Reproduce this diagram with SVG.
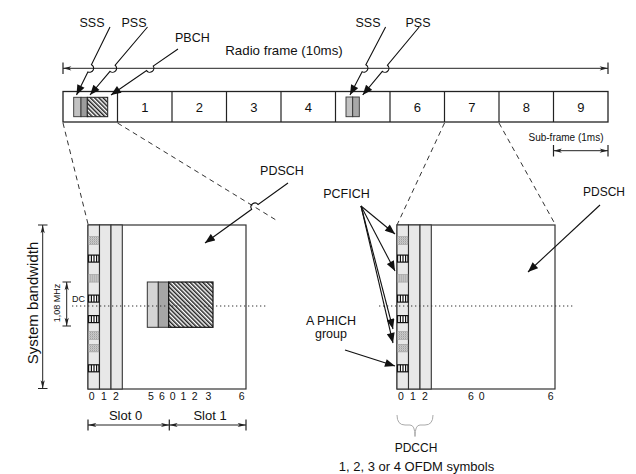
<svg xmlns="http://www.w3.org/2000/svg" width="636" height="474" viewBox="0 0 636 474">
<style>
text{font-family:"Liberation Sans",Arial,sans-serif;fill:#111}
.l{stroke:#222;stroke-width:1.2;fill:none}
.dash{stroke:#333;stroke-width:1;stroke-dasharray:5 4;fill:none}
.dot{stroke:#333;stroke-width:1.2;stroke-dasharray:1.3 2.7;fill:none}
.ar{stroke:#111;stroke-width:1.1;fill:none;marker-end:url(#ah)}
.dm{stroke:#222;stroke-width:1;fill:none;marker-start:url(#dh);marker-end:url(#dh)}
.tk{stroke:#222;stroke-width:1.2}
.col{fill:#e8e8e8;stroke:#333;stroke-width:1.1}
.lab{font-size:12.5px}
.num{font-size:10.5px}
</style>
<defs>
<marker id="ah" viewBox="0 0 10 8" refX="10" refY="4" markerWidth="11" markerHeight="8" orient="auto" markerUnits="userSpaceOnUse"><path d="M0,0L10,4L0,8z" fill="#111"/></marker>
<marker id="dh" viewBox="0 0 10 6" refX="10" refY="3" markerWidth="10" markerHeight="5" orient="auto-start-reverse" markerUnits="userSpaceOnUse"><path d="M0,0.5L10,3L0,5.5L2.5,3z" fill="#222"/></marker>
<pattern id="hatch" width="3" height="3" patternUnits="userSpaceOnUse" patternTransform="rotate(-45)"><rect width="3" height="3" fill="#fff"/><rect width="1.5" height="3" fill="#222"/></pattern>
<pattern id="stip" width="2" height="2" patternUnits="userSpaceOnUse"><rect width="2" height="2" fill="#ddd"/><rect width="1" height="1" fill="#888"/><rect x="1" y="1" width="1" height="1" fill="#aaa"/></pattern>
<g id="ph"><rect x="0.6" y="0.6" width="10.3" height="7" fill="#fff" stroke="#111" stroke-width="1.2"/><path d="M3.4,0.6V7.6M6,0.6V7.6M8.6,0.6V7.6" stroke="#111" stroke-width="1.2"/></g>
<rect id="pc" x="0.6" y="0" width="10.3" height="7.6" fill="url(#stip)" stroke="#999" stroke-width="0.6"/>
<g id="ctrl">
<rect class="col" x="88" y="225" width="11.5" height="164"/>
<rect class="col" x="99.5" y="225" width="11.5" height="164"/>
<rect class="col" x="111" y="225" width="11.3" height="164"/>
<use href="#pc" x="88" y="236.7"/>
<use href="#ph" x="88" y="254.5"/>
<use href="#pc" x="88" y="274.5"/>
<use href="#ph" x="88" y="294.5"/>
<use href="#ph" x="88" y="315"/>
<use href="#pc" x="88" y="331.7"/>
<use href="#pc" x="88" y="344.3"/>
<use href="#ph" x="88" y="364.2"/>
</g>
</defs>
<rect width="636" height="474" fill="#fff"/>

<g id="radio-frame">
<rect x="63" y="91.5" width="545" height="30.5" fill="#fff" stroke="#222" stroke-width="1.3"/>
<path class="l" d="M117.5,91.5V122M172,91.5V122M226.5,91.5V122M281,91.5V122M335.5,91.5V122M390,91.5V122M444.5,91.5V122M499,91.5V122M553.5,91.5V122"/>
<g font-size="13" text-anchor="middle">
<text x="144.75" y="112">1</text><text x="199.25" y="112">2</text><text x="253.75" y="112">3</text><text x="308.25" y="112">4</text>
<text x="417.25" y="112">6</text><text x="471.75" y="112">7</text><text x="526.25" y="112">8</text><text x="580.75" y="112">9</text>
</g>
<rect x="73.7" y="97.3" width="7.3" height="19.4" fill="#c2c2c2" stroke="#333" stroke-width="0.9"/>
<rect x="81" y="97.3" width="6.3" height="19.4" fill="#9c9c9c" stroke="#333" stroke-width="0.9"/>
<rect x="87.3" y="97.3" width="20.4" height="19.4" fill="url(#hatch)" stroke="#222" stroke-width="1"/>
<rect x="346" y="97" width="6.7" height="19.7" fill="#c2c2c2" stroke="#333" stroke-width="0.9"/>
<rect x="352.7" y="97" width="6.6" height="19.7" fill="#a8a8a8" stroke="#333" stroke-width="0.9"/>
<path class="dm" d="M63,68.3H608"/>
<path class="tk" d="M63,62.5V74M608,62.5V74"/>
<text x="284" y="55" font-size="13.3" text-anchor="middle">Radio frame (10ms)</text>
<path class="dm" d="M553.5,150.7H608"/>
<path class="tk" d="M553.5,145V156.5M608,145V156.5"/>
<text x="566" y="141" font-size="10" text-anchor="middle">Sub-frame (1ms)</text>
</g>

<g id="labels-top" class="lab" text-anchor="middle">
<text x="92" y="27">SSS</text>
<text x="134" y="27">PSS</text>
<text x="175" y="42" text-anchor="start">PBCH</text>
<text x="368" y="27">SSS</text>
<text x="418" y="27">PSS</text>
</g>

<g id="grid-left">
<rect x="88" y="225" width="158" height="164" fill="#fff" stroke="#333" stroke-width="1.2"/>
<use href="#ctrl"/>
<rect x="147.3" y="282" width="11" height="45.3" fill="#d4d4d4" stroke="#333" stroke-width="1"/>
<rect x="158.3" y="282" width="10.4" height="45.3" fill="#a6a6a6" stroke="#333" stroke-width="1"/>
<rect x="168.7" y="282" width="44.3" height="45.3" fill="url(#hatch)" stroke="#111" stroke-width="1.2"/>
<path class="dot" d="M72,306H266"/>
<text x="72" y="302" font-size="9">DC</text>
<text transform="translate(60,303) rotate(-90)" font-size="9" text-anchor="middle">1,08 MHz</text>
<path class="dm" d="M66.7,282V326"/>
<path class="tk" d="M62.5,282H71M62.5,326H71"/>
<text transform="translate(38,303) rotate(-90)" font-size="15" text-anchor="middle">System bandwidth</text>
<path class="dm" d="M42.7,225V388.5"/>
<path class="tk" d="M38,225H47.5M38,388.5H47.5"/>
<g class="num" text-anchor="middle">
<text x="91.7" y="400">0</text><text x="104" y="400">1</text><text x="116" y="400">2</text>
<text x="151" y="400">5</text><text x="162" y="400">6</text><text x="172.7" y="400">0</text><text x="183.3" y="400">1</text><text x="194.7" y="400">2</text><text x="208.3" y="400">3</text><text x="241.7" y="400">6</text>
</g>
<path class="dm" d="M88,425H169.3"/>
<path class="dm" d="M169.3,425H246"/>
<path class="tk" d="M88,419.5V430.5M169.3,419.5V430.5M246,419.5V430.5"/>
<text x="125.5" y="420" font-size="13" text-anchor="middle">Slot 0</text>
<text x="210" y="420" font-size="13" text-anchor="middle">Slot 1</text>
<text x="282" y="175" class="lab" text-anchor="middle">PDSCH</text>
</g>

<g id="grid-right">
<rect x="397" y="225" width="158" height="164" fill="#fff" stroke="#333" stroke-width="1.2"/>
<use href="#ctrl" x="309"/>
<path class="dot" d="M379,306H573"/>
<g class="num" text-anchor="middle">
<text x="401" y="400">0</text><text x="413" y="400">1</text><text x="425" y="400">2</text>
<text x="471" y="400">6</text><text x="481.7" y="400">0</text><text x="550.7" y="400">6</text>
</g>
<path d="M397,415 Q397,425 405,425 L410,425 Q415,425 415,436.5 Q415,425 420,425 L425,425 Q433,425 433,415" fill="none" stroke="#aaa" stroke-width="1"/>
<text x="416" y="452" font-size="12" text-anchor="middle">PDCCH</text>
<text x="416.5" y="471" font-size="13" text-anchor="middle">1, 2, 3 or 4 OFDM symbols</text>
<text x="346.5" y="198" class="lab" text-anchor="middle">PCFICH</text>
<text x="331" y="325" class="lab" text-anchor="middle">A PHICH</text>
<text x="331" y="338" class="lab" text-anchor="middle">group</text>
<text x="604" y="196" font-size="12" text-anchor="middle">PDSCH</text>
</g>

<g id="connectors">
<path class="dash" d="M63,123 L88,224"/>
<path class="dash" d="M117.5,123 L276,220"/>
<path class="dash" d="M444.5,123 L397,225"/>
<path class="dash" d="M499,123 L555,224"/>
<path class="ar" d="M110,27 L91.42,64.71 A4,4 0 0 1 87.88,71.89 L76.5,95"/>
<path class="ar" d="M147.5,27 L115.18,65.24 A4,4 0 0 1 110.02,71.36 L90,95"/>
<path class="ar" d="M178,49 L153.2,66.04 A4,4 0 0 1 146.6,70.56 L111,95"/>
<path class="ar" d="M385.6,27 L365.86,64.76 A4,4 0 0 1 362.14,71.84 L350,95"/>
<path class="ar" d="M419.2,27 L387.46,65.22 A4,4 0 0 1 382.34,71.38 L362.7,95"/>
<path class="ar" d="M288,183 L258.14,204.56 A4,4 0 0 0 251.66,209.24 L205,243"/>
<path class="ar" d="M361,206 L395,234"/>
<path class="ar" d="M361,206 L395,271"/>
<path class="ar" d="M361,206 L393,329"/>
<path class="ar" d="M361,206 L393,343"/>
<path class="ar" d="M345,350 L395,366"/>
<path class="ar" d="M600,205 L528,272"/>
</g>
</svg>
